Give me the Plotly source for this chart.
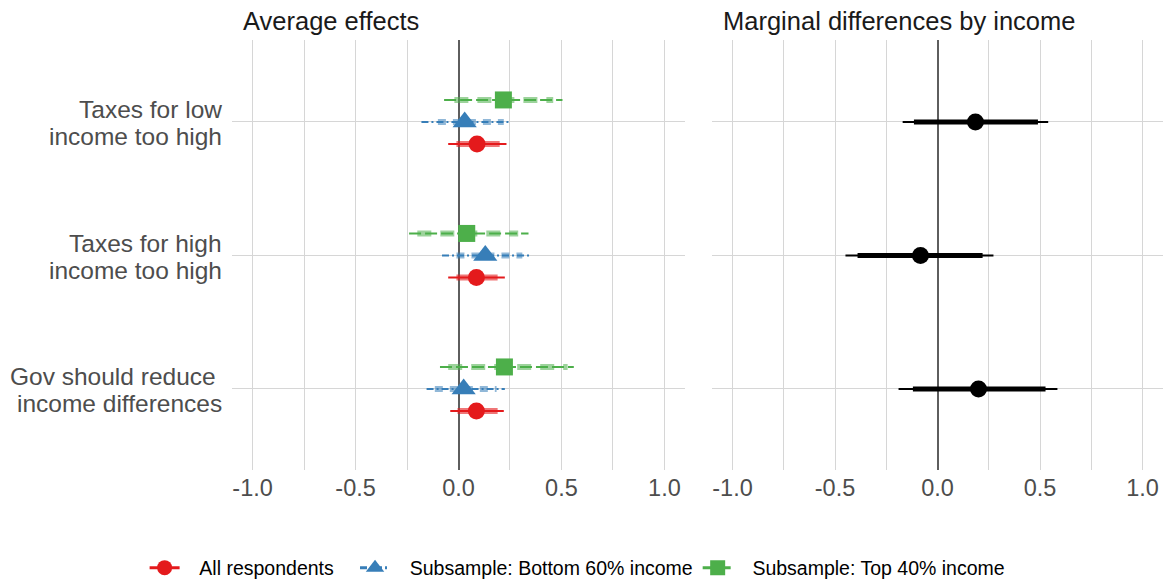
import plotly.graph_objects as go

# Outcome questions (top to bottom), each label on two lines
outcome_lines = [("Taxes for low", "income too high"),
                 ("Taxes for high", "income too high"),
                 ("Gov should reduce\u00a0", "income differences")]
row_pos = [3, 2, 1]

# Average effects by sample: estimate, 95% CI, 90% CI
all_est = [0.09, 0.087, 0.087]
all_lo95 = [-0.05, -0.05, -0.04]
all_hi95 = [0.233, 0.225, 0.22]
all_lo90 = [-0.01, -0.01, -0.005]
all_hi90 = [0.20, 0.19, 0.19]

bot_est = [0.03, 0.13, 0.025]
bot_lo95 = [-0.18, -0.08, -0.155]
bot_hi95 = [0.25, 0.345, 0.225]
bot_lo90 = [-0.10, -0.01, -0.115]
bot_hi90 = [0.22, 0.31, 0.185]

top_est = [0.218, 0.04, 0.223]
top_lo95 = [-0.07, -0.24, -0.09]
top_hi95 = [0.505, 0.34, 0.56]
top_lo90 = [-0.02, -0.20, -0.05]
top_hi90 = [0.46, 0.29, 0.53]

# Marginal differences (top 40% vs bottom 60%)
diff_est = [0.185, -0.083, 0.20]
diff_lo95 = [-0.17, -0.449, -0.19]
diff_hi95 = [0.54, 0.273, 0.585]
diff_lo90 = [-0.115, -0.39, -0.12]
diff_hi90 = [0.49, 0.22, 0.527]

tick_vals = [-1.0, -0.5, 0.0, 0.5, 1.0]
tick_text = ["-1.0", "-0.5", "0.0", "0.5", "1.0"]

RED, BLUE, GREEN = "#E41A1C", "#377EB8", "#4DAF4A"
FONT = "Liberation Sans, Arial, sans-serif"
NB = "\u00a0"
THIN = "\u2009"

series = [
    # name, est, lo95, hi95, lo90, hi90, colour, light colour, offset, symbol, size, dashes
    ("All respondents", all_est, all_lo95, all_hi95, all_lo90, all_hi90,
     RED, "rgba(228,26,28,0.6)", -0.165, "circle", 17, "solid", "solid"),
    ("Subsample: Bottom 60% income", bot_est, bot_lo95, bot_hi95, bot_lo90, bot_hi90,
     BLUE, "rgba(55,126,184,0.55)", 0.0, "triangle-up", 21,
     "7px,3px,2px,3px", "8px,7px"),
    ("Subsample: Top 40% income", top_est, top_lo95, top_hi95, top_lo90, top_hi90,
     GREEN, "rgba(77,175,74,0.55)", 0.165, "square", 17,
     "12px,4px", "14px,9px"),
]
# padding around legend texts
legend_lead = NB * 2 + THIN
legend_trail = [NB * 3, "", ""]


def segments(lo, hi, ys):
    xs, yy = [], []
    for a, b, y in zip(lo, hi, ys):
        xs += [a, b, None]
        yy += [y, y, None]
    return xs, yy


fig = go.Figure()

for (name, est, lo95, hi95, lo90, hi90, col, light, off, sym, size,
     dash_thin, dash_thick), trail in zip(series, legend_trail):
    ys = [r + off for r in row_pos]
    x95, y95 = segments(lo95, hi95, ys)
    x90, y90 = segments(lo90, hi90, ys)
    fig.add_trace(go.Scatter(x=x95, y=y95, mode="lines", showlegend=False,
                             line=dict(color=col, width=2, dash=dash_thin),
                             xaxis="x", yaxis="y", hoverinfo="skip"))
    fig.add_trace(go.Scatter(x=x90, y=y90, mode="lines", showlegend=False,
                             line=dict(color=light, width=6, dash=dash_thick),
                             xaxis="x", yaxis="y", hoverinfo="skip"))
    fig.add_trace(go.Scatter(x=est, y=ys, mode="markers", showlegend=False,
                             marker=dict(symbol=sym, size=size, color=col, line=dict(width=0)),
                             xaxis="x", yaxis="y"))
    # legend key: line + marker
    fig.add_trace(go.Scatter(x=[None], y=[None], mode="lines+markers",
                             name=legend_lead + name + trail,
                             line=dict(color=col, width=3, dash=dash_thin),
                             marker=dict(symbol=sym, size=size - 2, color=col),
                             xaxis="x", yaxis="y"))

# right panel: marginal differences
xd95, yd95 = segments(diff_lo95, diff_hi95, row_pos)
xd90, yd90 = segments(diff_lo90, diff_hi90, row_pos)
fig.add_trace(go.Scatter(x=xd95, y=yd95, mode="lines", showlegend=False,
                         line=dict(color="black", width=2), xaxis="x2", yaxis="y2",
                         hoverinfo="skip"))
fig.add_trace(go.Scatter(x=xd90, y=yd90, mode="lines", showlegend=False,
                         line=dict(color="black", width=5), xaxis="x2", yaxis="y2",
                         hoverinfo="skip"))
fig.add_trace(go.Scatter(x=diff_est, y=row_pos, mode="markers", showlegend=False,
                         marker=dict(symbol="circle", size=17, color="black"),
                         xaxis="x2", yaxis="y2"))

W, H = 1174, 580
ydom = [(H - 470) / H, (H - 40) / H]

xcommon = dict(range=[-1.1, 1.1], tickvals=tick_vals, ticktext=tick_text,
               showgrid=True, gridcolor="#d6d6d6", gridwidth=1,
               minor=dict(tickvals=[-0.75, -0.25, 0.25, 0.75], showgrid=True,
                          gridcolor="#d6d6d6", gridwidth=1),
               zeroline=True, zerolinecolor="#5e5e5e", zerolinewidth=2,
               showline=False, ticks="", ticklabelstandoff=1, automargin=False,
               tickfont=dict(family=FONT, size=23.5, color="#4d4d4d"))
ycommon = dict(range=[0.393, 3.614], tickvals=row_pos, showgrid=True,
               gridcolor="#d6d6d6", gridwidth=1, zeroline=False, showline=False,
               ticks="", showticklabels=False, automargin=False)

# category labels: two right-aligned lines per row, tight line spacing
label_anns = []
for (l1, l2), r in zip(outcome_lines, row_pos):
    for txt, shift in ((l1, 12), (l2, -15)):
        label_anns.append(dict(text=txt, x=224 / W, xref="paper", y=r, yref="y",
                               yshift=shift, xanchor="right", yanchor="middle",
                               showarrow=False,
                               font=dict(family=FONT, size=24.5, color="#4d4d4d")))

fig.update_layout(
    width=W, height=H,
    margin=dict(l=0, r=0, t=0, b=0, autoexpand=False),
    plot_bgcolor="white", paper_bgcolor="white",
    font=dict(family=FONT),
    xaxis=dict(domain=[232 / W, 685 / W], anchor="y", **xcommon),
    yaxis=dict(domain=ydom, anchor="x", **ycommon),
    xaxis2=dict(domain=[712 / W, 1163 / W], anchor="y2", **xcommon),
    yaxis2=dict(domain=ydom, anchor="x2", **ycommon),
    legend=dict(orientation="h", x=0.492, xanchor="center", y=(H - 568) / H,
                yanchor="middle", font=dict(family=FONT, size=19.5, color="black"),
                itemwidth=30, bgcolor="rgba(0,0,0,0)"),
    annotations=label_anns + [
        dict(text="Average effects", x=241 / W, y=(H - 21) / H, xref="paper",
             yref="paper", xanchor="left", yanchor="middle", showarrow=False,
             font=dict(family=FONT, size=25.5, color="#1a1a1a")),
        dict(text="Marginal differences by income", x=721 / W, y=(H - 21) / H,
             xref="paper", yref="paper", xanchor="left", yanchor="middle",
             showarrow=False, font=dict(family=FONT, size=25.5, color="#1a1a1a")),
    ],
)

fig.write_html("out.html")
